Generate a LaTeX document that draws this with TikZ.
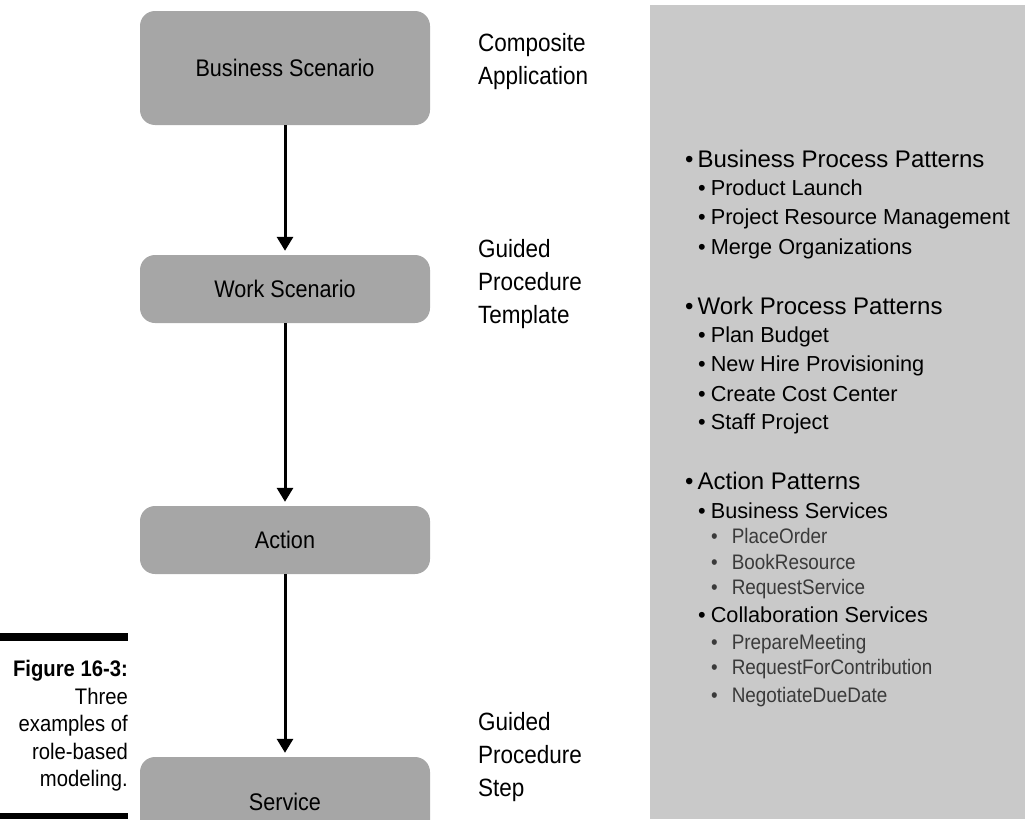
\documentclass[tikz,border=0pt]{standalone}
\usepackage{fontspec}
\setmainfont{Liberation Sans}
\newfontfamily\condfont{Liberation Sans}[FakeStretch=0.9]
\usepackage{xcolor}
\usepackage{tikz}
\usetikzlibrary{arrows.meta, positioning}
\definecolor{boxgray}{HTML}{A6A6A6}
\definecolor{panelgray}{HTML}{C9C9C9}
\definecolor{subgray}{HTML}{3A3A3A}

\begin{document}
\begin{tikzpicture}[x=1pt, y=1pt]
\tikzstyle{scenario} = [rectangle, rounded corners=15pt, fill=boxgray, minimum width=290pt, text centered, font=\condfont\fontsize{24}{28}\selectfont]
\tikzstyle{arrow} = [line width=3pt, -{Triangle[length=14pt, width=16pt]}, shorten >=4pt]
\tikzstyle{tier} = [anchor=west, align=left, inner sep=0pt, font=\condfont\fontsize{25}{33}\selectfont]
\tikzstyle{lvla} = [anchor=base west, inner sep=0pt, font=\fontsize{24}{28}\selectfont]
\tikzstyle{lvlb} = [anchor=base west, inner sep=0pt, font=\fontsize{21.7}{26}\selectfont]
\tikzstyle{lvlc} = [anchor=base west, inner sep=0pt, text=subgray, font=\condfont\fontsize{21}{25}\selectfont]

\clip (0,0) rectangle (1025,-819);
\fill[panelgray] (650,-5) rectangle (1025,-819);

% scenario boxes
\node (bs) [scenario, minimum height=114pt] at (285,-68) {Business Scenario};
\node (ws) [scenario, minimum height=68pt] at (285,-289) {Work Scenario};
\node (act) [scenario, minimum height=68pt] at (285,-540) {Action};
\node (svc) [scenario, minimum height=90pt] at (285,-802) {Service};

\draw [arrow] (bs) -- (ws);
\draw [arrow] (ws) -- (act);
\draw [arrow] (act) -- (svc);

% tier labels
\node (compapp) [tier] at (478,-62) {Composite\\Application};
\node (gptempl) [tier] at (478,-284) {Guided\\Procedure\\Template};
\node (gpstep) [tier] at (478,-757) {Guided\\Procedure\\Step};

% caption
\fill (0,-633) rectangle (128,-641);
\fill (0,-813) rectangle (128,-819);
\node (caption) [anchor=east, align=right, inner sep=0pt, font=\condfont\fontsize{22.5}{27.5}\selectfont] at (128,-726) {\textbf{Figure 16-3:}\\Three\\examples of\\role-based\\modeling.};

% pattern list
\node (bpp) [lvla] at (685,-167) {\textbullet\hspace{4pt}Business Process Patterns};
\node (plaunch) [lvlb] at (698,-195) {\textbullet\hspace{5pt}Product Launch};
\node (prm) [lvlb] at (698,-224) {\textbullet\hspace{5pt}Project Resource Management};
\node (merge) [lvlb] at (698,-254) {\textbullet\hspace{5pt}Merge Organizations};

\node (wpp) [lvla] at (685,-314) {\textbullet\hspace{4pt}Work Process Patterns};
\node (pbudget) [lvlb] at (698,-342) {\textbullet\hspace{5pt}Plan Budget};
\node (newhire) [lvlb] at (698,-371) {\textbullet\hspace{5pt}New Hire Provisioning};
\node (costc) [lvlb] at (698,-401) {\textbullet\hspace{5pt}Create Cost Center};
\node (staff) [lvlb] at (698,-429) {\textbullet\hspace{5pt}Staff Project};

\node (actp) [lvla] at (685,-489) {\textbullet\hspace{4pt}Action Patterns};
\node (bsvc) [lvlb] at (698,-518) {\textbullet\hspace{5pt}Business Services};
\node (porder) [lvlc] at (711,-543) {\textbullet\hspace{14pt}PlaceOrder};
\node (bookres) [lvlc] at (711,-569) {\textbullet\hspace{14pt}BookResource};
\node (reqsvc) [lvlc] at (711,-594) {\textbullet\hspace{14pt}RequestService};
\node (collab) [lvlb] at (698,-622) {\textbullet\hspace{5pt}Collaboration Services};
\node (prepmeet) [lvlc] at (711,-649) {\textbullet\hspace{14pt}PrepareMeeting};
\node (reqcontrib) [lvlc] at (711,-674) {\textbullet\hspace{14pt}RequestForContribution};
\node (negdue) [lvlc] at (711,-702) {\textbullet\hspace{14pt}NegotiateDueDate};
\end{tikzpicture}
\end{document}
